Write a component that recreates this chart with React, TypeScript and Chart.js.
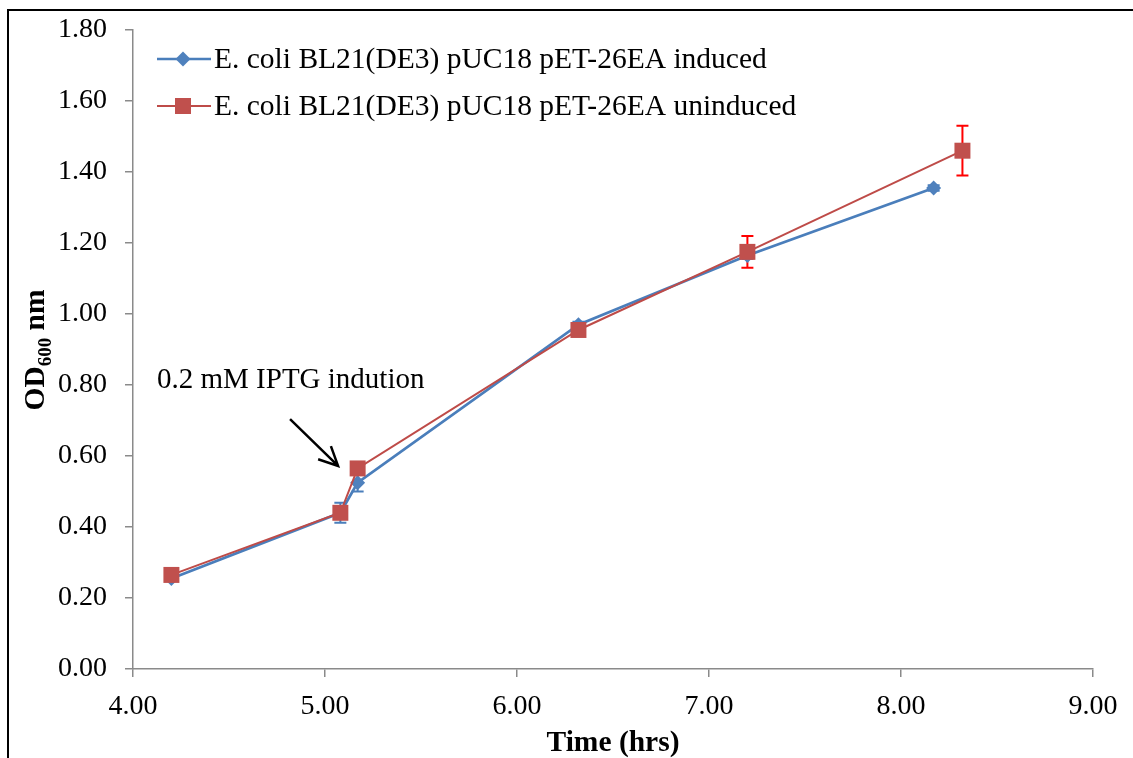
import React, { useEffect, useRef } from "react";
import { Chart, registerables } from "chart.js";

Chart.register(...registerables);

const FONT = '"Liberation Serif", "Times New Roman", serif';

const inducedX = [4.2, 5.08, 5.17, 6.32, 7.2, 8.17];
const inducedY = [0.255, 0.44, 0.525, 0.97, 1.165, 1.355];
const inducedErr = [0.005, 0.028, 0.025, 0.008, 0.01, 0.008];

const uninducedX = [4.2, 5.08, 5.17, 6.32, 7.2, 8.32];
const uninducedY = [0.265, 0.44, 0.565, 0.955, 1.175, 1.46];
const uninducedErr = [0.005, 0.01, 0.005, 0.01, 0.045, 0.07];

const seriesNames = [
  "E. coli BL21(DE3) pUC18 pET-26EA induced",
  "E. coli BL21(DE3) pUC18 pET-26EA uninduced",
];

const annotationText = "0.2 mM IPTG indution";
const annotationPos = { x: 4.125, y: 0.792 };
const arrowFrom = { x: 4.818, y: 0.704 };
const arrowTo = { x: 5.068, y: 0.572 };

const BLUE_LINE = "#4a7ebb";
const BLUE_MARK = "#4f81bd";
const RED_LINE = "#be4b48";
const RED_MARK = "#c0504d";

export default function App() {
  const ref = useRef<HTMLCanvasElement | null>(null);

  useEffect(() => {
    const canvas = ref.current;
    if (!canvas) return;

    const errors: Record<number, { err: number[]; color: string }> = {
      0: { err: uninducedErr, color: "#ff0000" },
      1: { err: inducedErr, color: BLUE_LINE },
    };

    const extras = {
      id: "extras",
      beforeDatasetsDraw(chart: any) {
        const ctx = chart.ctx;
        const xs = chart.scales.x;
        const ys = chart.scales.y;
        ctx.save();
        [1, 0].forEach((di) => {
          const ds = chart.data.datasets[di];
          const e = errors[di];
          ctx.strokeStyle = e.color;
          ctx.lineWidth = 2;
          ds.data.forEach((p: any, i: number) => {
            const px = xs.getPixelForValue(p.x);
            const top = ys.getPixelForValue(p.y + e.err[i]);
            const bot = ys.getPixelForValue(p.y - e.err[i]);
            ctx.beginPath();
            ctx.moveTo(px, top);
            ctx.lineTo(px, bot);
            ctx.moveTo(px - 6, top);
            ctx.lineTo(px + 6, top);
            ctx.moveTo(px - 6, bot);
            ctx.lineTo(px + 6, bot);
            ctx.stroke();
          });
        });
        ctx.restore();
      },
      afterDraw(chart: any) {
        const ctx = chart.ctx;
        const xs = chart.scales.x;
        const ys = chart.scales.y;
        ctx.save();

        // frame
        ctx.strokeStyle = "#000";
        ctx.lineWidth = 2;
        ctx.beginPath();
        ctx.moveTo(8, 758);
        ctx.lineTo(8, 10);
        ctx.lineTo(1133, 10);
        ctx.stroke();

        // y title with subscript
        ctx.fillStyle = "#000";
        ctx.save();
        ctx.translate(44, 350);
        ctx.rotate(-Math.PI / 2);
        ctx.textBaseline = "alphabetic";
        ctx.textAlign = "left";
        const big = `bold 29.5px ${FONT}`;
        const small = `bold 19px ${FONT}`;
        ctx.font = big;
        const w1 = ctx.measureText("OD").width;
        const w3 = ctx.measureText(" nm").width;
        ctx.font = small;
        const w2 = ctx.measureText("600").width;
        const total = w1 + w2 + w3;
        let cx = -total / 2;
        ctx.font = big;
        ctx.fillText("OD", cx, 0);
        cx += w1;
        ctx.font = small;
        ctx.fillText("600", cx, 7);
        cx += w2;
        ctx.font = big;
        ctx.fillText(" nm", cx, 0);
        ctx.restore();

        // x title
        ctx.font = `bold 29.5px ${FONT}`;
        ctx.textAlign = "center";
        ctx.textBaseline = "alphabetic";
        ctx.fillText("Time (hrs)", 613, 751);

        // legend
        const rows = [
          { name: seriesNames[0], line: BLUE_LINE, mark: BLUE_MARK, lw: 2.5, shape: "diamond", y: 59 },
          { name: seriesNames[1], line: RED_LINE, mark: RED_MARK, lw: 2, shape: "square", y: 106 },
        ];
        rows.forEach((r) => {
          ctx.strokeStyle = r.line;
          ctx.lineWidth = r.lw;
          ctx.beginPath();
          ctx.moveTo(157, r.y);
          ctx.lineTo(211, r.y);
          ctx.stroke();
          ctx.fillStyle = r.mark;
          ctx.beginPath();
          if (r.shape === "diamond") {
            ctx.moveTo(183 - 7.5, r.y);
            ctx.lineTo(183, r.y - 7.5);
            ctx.lineTo(183 + 7.5, r.y);
            ctx.lineTo(183, r.y + 7.5);
            ctx.closePath();
          } else {
            ctx.rect(183 - 8, r.y - 8, 16, 16);
          }
          ctx.fill();
          ctx.fillStyle = "#000";
          ctx.font = `29.5px ${FONT}`;
          ctx.textAlign = "left";
          ctx.textBaseline = "middle";
          ctx.fillText(r.name, 214, r.y + 1);
        });

        // annotation
        ctx.fillStyle = "#000";
        ctx.font = `29px ${FONT}`;
        ctx.textAlign = "left";
        ctx.textBaseline = "alphabetic";
        ctx.fillText(annotationText, xs.getPixelForValue(annotationPos.x), ys.getPixelForValue(annotationPos.y));

        const ax0 = xs.getPixelForValue(arrowFrom.x);
        const ay0 = ys.getPixelForValue(arrowFrom.y);
        const ax1 = xs.getPixelForValue(arrowTo.x);
        const ay1 = ys.getPixelForValue(arrowTo.y);
        ctx.strokeStyle = "#000";
        ctx.lineWidth = 2.5;
        ctx.beginPath();
        ctx.moveTo(ax0, ay0);
        ctx.lineTo(ax1, ay1);
        const ang = Math.atan2(ay1 - ay0, ax1 - ax0);
        const hl = 21;
        ctx.moveTo(ax1 - hl * Math.cos(ang - 0.45), ay1 - hl * Math.sin(ang - 0.45));
        ctx.lineTo(ax1, ay1);
        ctx.lineTo(ax1 - hl * Math.cos(ang + 0.45), ay1 - hl * Math.sin(ang + 0.45));
        ctx.stroke();

        ctx.restore();
      },
    };

    const chart = new Chart(canvas, {
      type: "line",
      data: {
        datasets: [
          {
            label: seriesNames[1],
            data: uninducedX.map((x, i) => ({ x, y: uninducedY[i] })),
            borderColor: RED_LINE,
            backgroundColor: RED_MARK,
            borderWidth: 2,
            pointStyle: "rect",
            pointRadius: 11.3,
            pointBorderWidth: 0,
            pointBackgroundColor: RED_MARK,
            tension: 0,
          },
          {
            label: seriesNames[0],
            data: inducedX.map((x, i) => ({ x, y: inducedY[i] })),
            borderColor: BLUE_LINE,
            backgroundColor: BLUE_MARK,
            borderWidth: 2.75,
            pointStyle: "rectRot",
            pointRadius: 7.5,
            pointBorderWidth: 0,
            pointBackgroundColor: BLUE_MARK,
            tension: 0,
          },
        ],
      },
      options: {
        responsive: false,
        animation: false,
        events: [],
        layout: { padding: { top: 30, right: 40, left: 0, bottom: 0 } },
        plugins: { legend: { display: false }, tooltip: { enabled: false } },
        scales: {
          x: {
            type: "linear",
            min: 4,
            max: 9,
            afterFit: (s: any) => {
              s.height = 89;
              s.paddingLeft = 0;
              s.paddingRight = 0;
            },
            border: { color: "#8a8a8a", width: 1.5 },
            grid: { drawOnChartArea: false, drawTicks: true, tickLength: 8, color: "#8a8a8a", lineWidth: 1.5 },
            ticks: {
              stepSize: 1,
              color: "#000",
              padding: 13,
              maxRotation: 0,
              font: { family: FONT, size: 28 },
              callback: (v: any) => Number(v).toFixed(2),
            },
          },
          y: {
            type: "linear",
            min: 0,
            max: 1.8,
            afterFit: (s: any) => {
              s.width = 133;
              s.paddingTop = 0;
              s.paddingBottom = 0;
            },
            border: { color: "#8a8a8a", width: 1.5 },
            grid: { drawOnChartArea: false, drawTicks: true, tickLength: 8, color: "#8a8a8a", lineWidth: 1.5 },
            ticks: {
              stepSize: 0.2,
              color: "#000",
              padding: 18,
              font: { family: FONT, size: 28 },
              callback: (v: any) => Number(v).toFixed(2),
            },
          },
        },
      },
      plugins: [extras],
    } as any);

    return () => chart.destroy();
  }, []);

  return (
    <div style={{ position: "absolute", left: 0, top: 0, width: 1133, height: 758, background: "#fff" }}>
      <canvas ref={ref} width={1133} height={758} style={{ display: "block" }} />
    </div>
  );
}
